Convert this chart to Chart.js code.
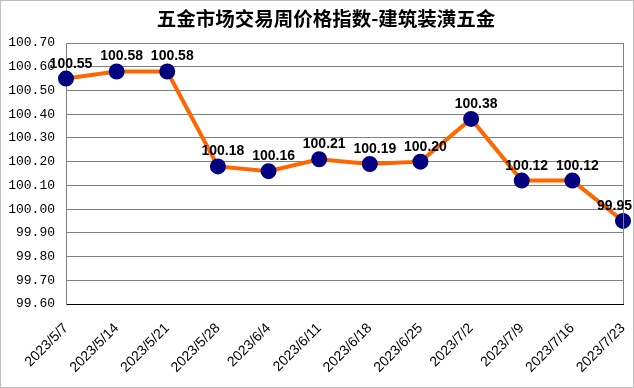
<!DOCTYPE html>
<html><head><meta charset="utf-8">
<script src="https://cdn.jsdelivr.net/npm/chart.js@4"></script>
<style>html,body{margin:0;padding:0;background:#fff}#wrap{width:634px;height:388px;position:relative;box-sizing:border-box;border:1px solid #bfbfbf}</style>
</head><body><div id="wrap"><canvas id="c" width="632" height="386"></canvas></div>
<script>
const titleText = '五金市场交易周价格指数-建筑装潢五金';
const categories = ['2023/5/7','2023/5/14','2023/5/21','2023/5/28','2023/6/4','2023/6/11','2023/6/18','2023/6/25','2023/7/2','2023/7/9','2023/7/16','2023/7/23'];
const values = [100.55,100.58,100.58,100.18,100.16,100.21,100.19,100.20,100.38,100.12,100.12,99.95];
const yMin = 99.6, yMax = 100.7, yStep = 0.1;

const deco = {
  id:'deco',
  beforeDraw(chart){
    const ctx = chart.ctx;
    ctx.save();
    ctx.fillStyle='#000';
    ctx.font='bold 19.5px "Noto Sans CJK SC"';
    ctx.textAlign='center'; ctx.textBaseline='middle';
    ctx.fillText(titleText, 325, 18);
    ctx.restore();
  },
  afterDraw(chart){
    const {ctx, chartArea:a} = chart;
    ctx.save();
    ctx.strokeStyle='#808080'; ctx.lineWidth=1;
    ctx.beginPath(); ctx.moveTo(Math.round(a.right)+0.5, a.top); ctx.lineTo(Math.round(a.right)+0.5, a.bottom); ctx.stroke();
    const meta = chart.getDatasetMeta(0);
    ctx.fillStyle='#000';
    ctx.font='bold 14px "Liberation Sans", Arial';
    ctx.textAlign='center'; ctx.textBaseline='alphabetic';
    meta.data.forEach((p,i)=>{
      const t = values[i].toFixed(2);
      const w = ctx.measureText(t).width;
      let x = p.x+5;
      if (x + w/2 > chart.width - 1) x = chart.width - 1 - w/2;
      ctx.fillText(t, x, p.y-11);
    });
    ctx.restore();
  }
};

new Chart(document.getElementById('c'), {
  type:'line',
  data:{labels:categories, datasets:[{data:values, borderColor:'#FF6600', borderWidth:4, pointBackgroundColor:'#000080', pointBorderColor:'#000080', pointRadius:6, pointHoverRadius:6, tension:0, clip:false}]},
  options:{
    responsive:false, animation:false, devicePixelRatio:1,
    layout:{padding:{top:42, right:8, left:0, bottom:0}},
    plugins:{legend:{display:false}, tooltip:{enabled:false}},
    scales:{
      x:{offset:false,
        grid:{display:false, drawTicks:false},
        border:{color:'#000', width:1},
        ticks:{minRotation:45, maxRotation:45, autoSkip:false, color:'#000', padding:16, font:{family:'"Liberation Sans", Arial', size:14}},
        afterFit(s){ s.height = 83; s.paddingRight = 0; s.paddingLeft = 0; }
      },
      y:{min:yMin, max:yMax,
        grid:{color:'#808080', drawTicks:false},
        border:{color:'#808080'},
        ticks:{stepSize:yStep, color:'#000', padding:11, font:{family:'"Liberation Mono"', size:13}, callback:(v)=>v.toFixed(2)},
        afterFit(s){ s.width = 65; s.paddingTop = 0; s.paddingBottom = 0; }
      }
    }
  },
  plugins:[deco]
});
</script></body></html>
